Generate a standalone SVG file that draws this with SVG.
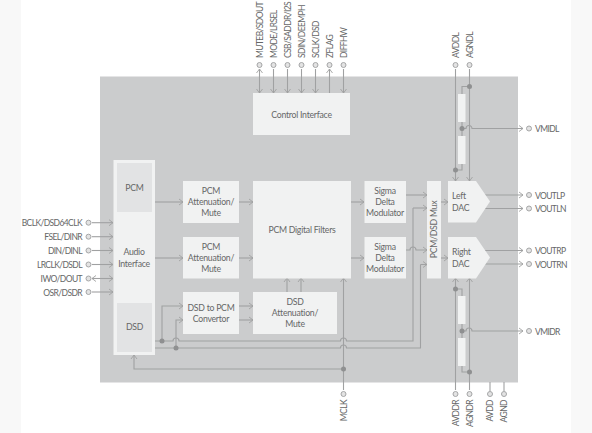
<svg xmlns="http://www.w3.org/2000/svg" width="592" height="433" viewBox="0 0 592 433">
<style>
text{font-family:"Lato","Liberation Sans",sans-serif;font-size:8.7px;fill:#666767;letter-spacing:-0.25px}
.n{font-size:8.5px;letter-spacing:-0.6px}
.m{text-anchor:middle}.e{text-anchor:end}
.b{fill:#f1f2f2}.s{fill:#e2e3e4}
.l{fill:none;stroke:#a0a1a2;stroke-width:1.1}
.a{marker-end:url(#ar)}
.p{fill:#e3e3e3;stroke:#a5a6a7;stroke-width:1}
.d{fill:#8f9091}
</style>
<defs>
<marker id="ar" markerUnits="userSpaceOnUse" markerWidth="8" markerHeight="8" refX="6" refY="4" orient="auto"><path d="M2,1 L6,4 L2,7" fill="none" stroke="#a0a1a2" stroke-width="0.9"/></marker>
<marker id="as" markerUnits="userSpaceOnUse" markerWidth="8" markerHeight="8" refX="1" refY="4" orient="auto"><path d="M5,1 L1,4 L5,7" fill="none" stroke="#a0a1a2" stroke-width="0.9"/></marker>
</defs>
<rect width="592" height="433" fill="#fff"/>
<rect width="21" height="433" fill="#f8f8f8"/>
<rect x="571" width="21" height="433" fill="#f8f8f8"/>
<rect id="chip" x="100" y="76.500" width="418" height="306" fill="#cbcccd"/>
<g id="connectors">
<path class="l a" d="M92,222.700H113"/><path class="l a" d="M92,236.700H113"/><path class="l a" d="M92,250.500H113"/><path class="l a" d="M92,264.500H113"/>
<path class="l a" style="marker-start:url(#as)" d="M92,278.500H113"/><path class="l a" d="M92,292H113"/>
<path class="l a" d="M155,202H183"/><path class="l a" d="M155,258H183"/>
<path class="l a" d="M239,202H253"/><path class="l a" d="M239,258H253"/>
<path class="l a" d="M351,202H364"/><path class="l a" d="M351,258H364"/>
<path class="l a" d="M406,195H427"/>
<path class="l a" d="M406,250H410a3,3 0 0 1 6,0H427"/>
<path class="l a" d="M441,202H448"/><path class="l a" d="M441,258H448"/>
<path class="l a" d="M239,306H253"/><path class="l a" d="M239,320H253"/>
<path class="l a" d="M287,292V278"/><path class="l a" d="M301,292V278"/>
<path class="l a" d="M343.500,390V278"/>
<path class="l a" d="M343.500,369H134V355"/>
<path class="l" d="M155,341H173a3,3 0 0 1 6,0H340.500a3,3 0 0 1 6,0H413V208"/>
<path class="l a" d="M413,208H427"/>
<path class="l" d="M155,348H340.500a3,3 0 0 1 6,0H420.500V264.500"/>
<path class="l a" d="M420.500,264.500H427"/>
<path class="l a" d="M162,341V306H183"/>
<path class="l a" d="M176,348V320H183"/>
<path class="l a" style="marker-start:url(#as)" d="M259.500,69V93"/>
<path class="l a" d="M273.500,69V93"/><path class="l a" d="M287.500,69V93"/><path class="l a" d="M301.500,69V93"/><path class="l a" d="M315.500,69V93"/>
<path class="l a" d="M329.500,93V69"/><path class="l a" d="M343.500,69V93"/>
<path class="l a" d="M455.500,69V181"/><path class="l a" d="M469.500,69V181"/>
<path class="l a" d="M455.500,390V278"/><path class="l a" d="M469.500,390V278"/>
<path class="l" d="M469.500,86.500H462V170H455.500"/>
<path class="l" d="M455.500,289H462V372H469.500"/>
<path class="l a" d="M462,128.500H466a3,3 0 0 1 6,0H523"/>
<path class="l a" d="M462,331H466a3,3 0 0 1 6,0H523"/>
<path class="l a" d="M485,195H523"/><path class="l a" d="M485,208.500H523"/>
<path class="l a" d="M485,250.500H523"/><path class="l a" d="M485,264H523"/>
<path class="l" d="M490,382V391"/><path class="l" d="M504,382V391"/>
</g>
<g id="junctions">
<circle class="d" cx="162" cy="341" r="2.500"/><circle class="d" cx="176" cy="348" r="2.500"/><circle class="d" cx="343.500" cy="369" r="2.500"/>
<circle class="d" cx="469.500" cy="86.500" r="2.500"/><circle class="d" cx="462" cy="128.500" r="2.500"/><circle class="d" cx="455.500" cy="170" r="2.500"/>
<circle class="d" cx="455.500" cy="289" r="2.500"/><circle class="d" cx="462" cy="331" r="2.500"/><circle class="d" cx="469.500" cy="372" r="2.500"/>
</g>
<g id="resistors">
<rect class="b" x="458" y="94" width="7.500" height="28"/><rect class="b" x="458" y="136" width="7.500" height="28"/>
<rect class="b" x="458" y="296" width="7.500" height="28"/><rect class="b" x="458" y="338" width="7.500" height="28"/>
</g>
<g id="control-interface"><rect class="b" x="253" y="93" width="97" height="42"/><text class="m" x="301.500" y="118">Control Interface</text></g>
<g id="audio-interface"><rect class="b" x="113.500" y="160" width="41.500" height="195"/>
<text class="m" x="134" y="255">Audio</text><text class="m" x="134" y="266.500">Interface</text></g>
<g id="pcm"><rect class="s" x="117" y="163" width="35" height="49"/><text class="m" x="134.500" y="191">PCM</text></g>
<g id="dsd"><rect class="s" x="117" y="303" width="35" height="49"/><text class="m" x="134.500" y="330">DSD</text></g>
<g id="pcm-att-1"><rect class="b" x="183" y="181" width="56" height="42"/><text class="m" x="211" y="194">PCM</text><text class="m" x="211" y="205">Attenuation/</text><text class="m" x="211" y="216">Mute</text></g>
<g id="pcm-att-2"><rect class="b" x="183" y="237" width="56" height="41.500"/><text class="m" x="211" y="250">PCM</text><text class="m" x="211" y="261">Attenuation/</text><text class="m" x="211" y="272">Mute</text></g>
<g id="dsd-to-pcm"><rect class="b" x="183" y="292" width="56" height="42"/><text class="m" x="211" y="311">DSD to PCM</text><text class="m" x="211" y="322">Convertor</text></g>
<g id="dsd-att"><rect class="b" x="253" y="292" width="84" height="42"/><text class="m" x="295" y="305">DSD</text><text class="m" x="295" y="316">Attenuation/</text><text class="m" x="295" y="327">Mute</text></g>
<g id="pcm-filters"><rect class="b" x="253" y="181" width="98" height="97.500"/><text class="m" x="302" y="233">PCM Digital Filters</text></g>
<g id="sigma-1"><rect class="b" x="364.500" y="181" width="41.500" height="42"/><text class="m" x="385" y="194">Sigma</text><text class="m" x="385" y="205">Delta</text><text class="m" x="385" y="216">Modulator</text></g>
<g id="sigma-2"><rect class="b" x="364.500" y="237" width="41.500" height="41.500"/><text class="m" x="385" y="250">Sigma</text><text class="m" x="385" y="261">Delta</text><text class="m" x="385" y="272">Modulator</text></g>
<g id="mux"><rect class="b" x="427" y="181" width="14" height="97.500"/><text class="m" transform="translate(437,229.500) rotate(-90)">PCM/DSD Mux</text></g>
<g id="left-dac"><polygon class="b" points="448,181 476,181 490,201.500 476,222.500 448,222.500"/><text x="452" y="199">Left</text><text x="452" y="211">DAC</text></g>
<g id="right-dac"><polygon class="b" points="448,237 476,237 490,257.500 476,278.500 448,278.500"/><text x="452" y="255">Right</text><text x="452" y="267">DAC</text></g>
<g id="pins-left">
<circle class="p" cx="88.500" cy="222.700" r="2.500"/><text class="e n" x="82" y="226">BCLK/DSD64CLK</text>
<circle class="p" cx="88.500" cy="236.700" r="2.500"/><text class="e n" x="82" y="240">FSEL/DINR</text>
<circle class="p" cx="88.500" cy="250.500" r="2.500"/><text class="e n" x="82" y="254">DIN/DINL</text>
<circle class="p" cx="88.500" cy="264.500" r="2.500"/><text class="e n" x="82" y="268">LRCLK/DSDL</text>
<circle class="p" cx="88.500" cy="278.500" r="2.500"/><text class="e n" x="82" y="282">IWO/DOUT</text>
<circle class="p" cx="88.500" cy="292" r="2.500"/><text class="e n" x="82" y="295.500">OSR/DSDR</text>
</g>
<g id="pins-top">
<circle class="p" cx="259.500" cy="65" r="2.500"/><text class="n" transform="translate(262.500,58) rotate(-90)">MUTEB/SDOUT</text>
<circle class="p" cx="273.500" cy="65" r="2.500"/><text class="n" transform="translate(276.500,58) rotate(-90)">MODE/LRSEL</text>
<circle class="p" cx="287.500" cy="65" r="2.500"/><text class="n" transform="translate(290.500,58) rotate(-90)">CSB/SADDR/I2S</text>
<circle class="p" cx="301.500" cy="65" r="2.500"/><text class="n" transform="translate(304.500,58) rotate(-90)">SDIN/DEEMPH</text>
<circle class="p" cx="315.500" cy="65" r="2.500"/><text class="n" transform="translate(318.500,58) rotate(-90)">SCLK/DSD</text>
<circle class="p" cx="329.500" cy="65" r="2.500"/><text class="n" transform="translate(332.500,58) rotate(-90)">ZFLAG</text>
<circle class="p" cx="343.500" cy="65" r="2.500"/><text class="n" transform="translate(346.500,58) rotate(-90)">DIFFHW</text>
<circle class="p" cx="455.500" cy="65" r="2.500"/><text class="n" transform="translate(458.500,58) rotate(-90)">AVDDL</text>
<circle class="p" cx="469.500" cy="65" r="2.500"/><text class="n" transform="translate(472.500,58) rotate(-90)">AGNDL</text>
</g>
<g id="pins-right">
<circle class="p" cx="529" cy="128.500" r="2.500"/><text class="n" x="535" y="132">VMIDL</text>
<circle class="p" cx="529" cy="195" r="2.500"/><text class="n" x="535" y="198.500">VOUTLP</text>
<circle class="p" cx="529" cy="208.500" r="2.500"/><text class="n" x="535" y="212">VOUTLN</text>
<circle class="p" cx="529" cy="250.500" r="2.500"/><text class="n" x="535" y="254">VOUTRP</text>
<circle class="p" cx="529" cy="264" r="2.500"/><text class="n" x="535" y="267.500">VOUTRN</text>
<circle class="p" cx="529" cy="331" r="2.500"/><text class="n" x="535" y="334.500">VMIDR</text>
</g>
<g id="pins-bottom">
<circle class="p" cx="343.500" cy="394" r="2.500"/><text class="e n" transform="translate(346.500,400) rotate(-90)">MCLK</text>
<circle class="p" cx="455.500" cy="394" r="2.500"/><text class="e n" transform="translate(458.500,400) rotate(-90)">AVDDR</text>
<circle class="p" cx="469.500" cy="394" r="2.500"/><text class="e n" transform="translate(472.500,400) rotate(-90)">AGNDR</text>
<circle class="p" cx="490" cy="394" r="2.500"/><text class="e n" transform="translate(493,400) rotate(-90)">AVDD</text>
<circle class="p" cx="504" cy="394" r="2.500"/><text class="e n" transform="translate(507,400) rotate(-90)">AGND</text>
</g>
</svg>
